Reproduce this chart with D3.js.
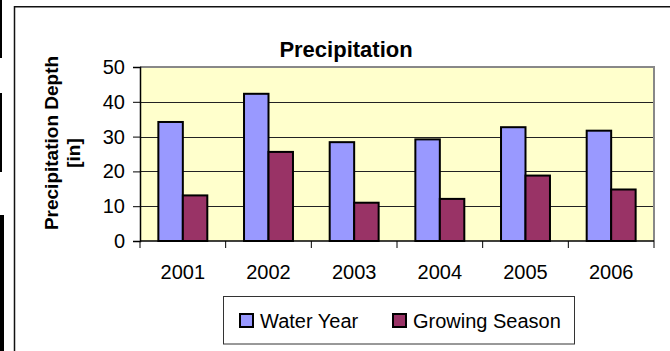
<!DOCTYPE html>
<html>
<head>
<meta charset="utf-8">
<script src="https://cdn.jsdelivr.net/npm/d3@7"></script>
<style>
  html, body { margin: 0; padding: 0; background: #fff; }
  svg { display: block; font-family: "Liberation Sans", Arial, sans-serif; }
</style>
</head>
<body>
<svg id="chart" width="670" height="351"></svg>
<script>
const years = ["2001", "2002", "2003", "2004", "2005", "2006"];
const waterYear = [34.2, 42.3, 28.4, 29.2, 32.7, 31.7];
const growingSeason = [13.1, 25.6, 11.0, 12.1, 18.8, 14.8];
const seriesNames = ["Water Year", "Growing Season"];
const seriesColors = ["#9999FF", "#993366"];
const yTicks = [0, 10, 20, 30, 40, 50];

const svg = d3.select("#chart");

// page-edge artifacts and outer chart frame
svg.append("rect").attr("x", 0).attr("y", 0).attr("width", 2).attr("height", 58).attr("fill", "#000");
svg.append("rect").attr("x", 0).attr("y", 93).attr("width", 2).attr("height", 79).attr("fill", "#000");
svg.append("rect").attr("x", 0).attr("y", 215).attr("width", 4).attr("height", 136).attr("fill", "#000");
svg.append("line").attr("x1", 14.5).attr("x2", 14.5).attr("y1", 6).attr("y2", 351).attr("stroke", "#111").attr("stroke-width", 1.5);
svg.append("line").attr("x1", 14).attr("x2", 670).attr("y1", 6.75).attr("y2", 6.75).attr("stroke", "#111").attr("stroke-width", 1.5);

const plot = { left: 140, right: 654, top: 67, bottom: 241 };

const x = d3.scaleBand().domain(years).range([plot.left, plot.right]).padding(0);
const barW = x.bandwidth() / 3.5;
const xs = d3.scaleBand().domain(seriesNames).range([-barW, barW]);
const y = d3.scaleLinear().domain([0, 50]).range([plot.bottom, plot.top]);

// plot background
svg.append("rect")
  .attr("x", plot.left).attr("y", plot.top)
  .attr("width", plot.right - plot.left).attr("height", plot.bottom - plot.top)
  .attr("fill", "#FFFFCC");

// gridlines
svg.append("g").selectAll("line").data(yTicks.filter(t => t > 0 && t < 50)).join("line")
  .attr("x1", plot.left).attr("x2", plot.right)
  .attr("y1", d => Math.round(y(d)) + 0.5).attr("y2", d => Math.round(y(d)) + 0.5)
  .attr("stroke", "#222").attr("stroke-width", 1);

// top and right plot border (gray)
svg.append("path")
  .attr("d", `M${plot.left},${plot.top} H${plot.right} V${plot.bottom}`)
  .attr("fill", "none").attr("stroke", "#888").attr("stroke-width", 2);

// bars
const data = years.map((yr, i) => ({ year: yr, values: [waterYear[i], growingSeason[i]] }));
const groups = svg.append("g").selectAll("g").data(data).join("g")
  .attr("transform", d => `translate(${x(d.year) + x.bandwidth() / 2},0)`);
groups.selectAll("rect").data(d => d.values.map((v, j) => ({ v, j }))).join("rect")
  .attr("x", d => xs(seriesNames[d.j]))
  .attr("y", d => y(d.v))
  .attr("width", xs.bandwidth())
  .attr("height", d => y(0) - y(d.v))
  .attr("fill", d => seriesColors[d.j])
  .attr("stroke", "#000").attr("stroke-width", 2);

// y axis
const yAxis = d3.axisLeft(y).tickValues(yTicks).tickSize(7).tickPadding(8);
const gy = svg.append("g").attr("transform", `translate(${plot.left},0)`).call(yAxis);
gy.select(".domain").attr("stroke", "#000").attr("stroke-width", 1.5);
gy.selectAll(".tick line").attr("stroke", "#000");
gy.selectAll(".tick text").attr("font-size", 20).attr("fill", "#000")
  .attr("font-family", "Liberation Sans, Arial, sans-serif");

// x axis
const gx = svg.append("g").attr("transform", `translate(0,${plot.bottom})`);
gx.append("line").attr("x1", plot.left).attr("x2", plot.right).attr("y1", 0).attr("y2", 0)
  .attr("stroke", "#000").attr("stroke-width", 1.5);
const bounds = years.map(yr => x(yr)).concat([plot.right]);
gx.selectAll("line.tk").data(bounds).join("line").attr("class", "tk")
  .attr("x1", d => d).attr("x2", d => d).attr("y1", 0).attr("y2", 7)
  .attr("stroke", "#000").attr("stroke-width", 1);
gx.selectAll("text").data(years).join("text")
  .attr("x", d => x(d) + x.bandwidth() / 2).attr("y", 38)
  .attr("text-anchor", "middle").attr("font-size", 20).attr("fill", "#000")
  .text(d => d);

// title
svg.append("text").attr("x", 346).attr("y", 57).attr("text-anchor", "middle")
  .attr("font-size", 22).attr("font-weight", "bold").text("Precipitation");

// y axis title
const yTitle = svg.append("g");
yTitle.append("text").attr("transform", "translate(58,143) rotate(-90)")
  .attr("text-anchor", "middle").attr("font-size", 19).attr("font-weight", "bold")
  .text("Precipitation Depth");
yTitle.append("text").attr("transform", "translate(80,153) rotate(-90)")
  .attr("text-anchor", "middle").attr("font-size", 19).attr("font-weight", "bold")
  .text("[in]");

// legend
const lg = svg.append("g");
lg.append("rect").attr("x", 223.5).attr("y", 296.5).attr("width", 351).attr("height", 47.5)
  .attr("fill", "#fff").attr("stroke", "#333").attr("stroke-width", 1);
const legendX = [240, 393];
seriesNames.forEach((name, j) => {
  lg.append("rect").attr("x", legendX[j]).attr("y", 314).attr("width", 13).attr("height", 13)
    .attr("fill", seriesColors[j]).attr("stroke", "#000").attr("stroke-width", 2);
  lg.append("text").attr("x", legendX[j] + 20).attr("y", 328)
    .attr("font-size", 20).attr("fill", "#000").text(name);
});
</script>
</body>
</html>
